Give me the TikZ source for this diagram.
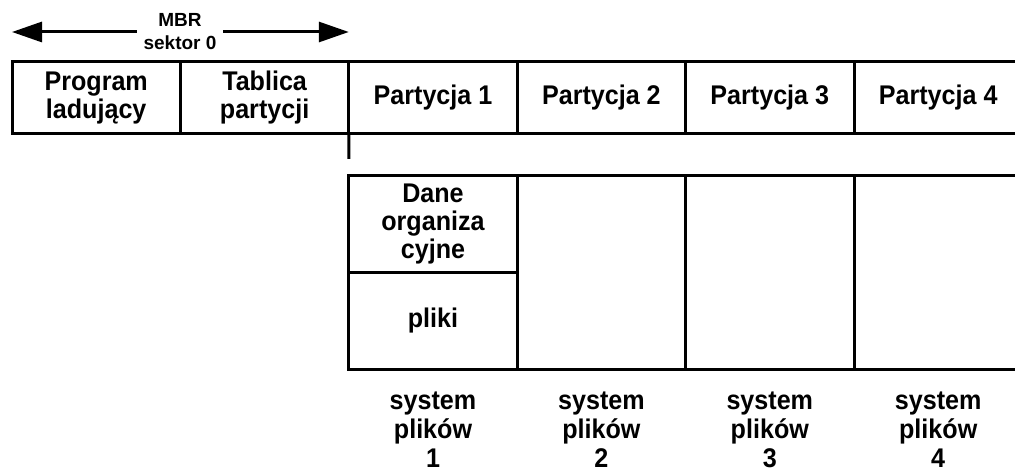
\documentclass[tikz,border=0pt]{standalone}
\usepackage{fontspec}
\setmainfont{Liberation Sans}
\newfontfamily\narrowfont{Liberation Sans}[FakeStretch=0.93]
\usetikzlibrary{positioning,arrows.meta}
\def\cellfont{\narrowfont\fontsize{27}{28}\selectfont\bfseries}
\def\fsfont{\narrowfont\fontsize{27}{29}\selectfont\bfseries}

\begin{document}
\begin{tikzpicture}[x=1pt,y=-1pt,line width=3pt,
every node/.style={align=center,font=\cellfont,inner sep=0pt,outer sep=0pt},
cell/.style={draw,minimum width=168.4pt,minimum height=72pt},
half/.style={draw,minimum width=168.4pt,minimum height=96.5pt},
tall/.style={draw,minimum width=168.4pt,minimum height=193pt},
fs/.style={font=\fsfont,below=23pt of #1},
arr/.style={-{Triangle[length=30pt,width=20pt]}}
]
\useasboundingbox (0,0) rectangle (1015,473);
\clip (0,0) rectangle (1015,473);
\node[font=\fontsize{19}{23}\selectfont\bfseries,inner xsep=7pt] (mbr) at (180,32) {MBR\\sektor 0};
\coordinate (mbrL) at (12,32); \coordinate (mbrR) at (348.8,32);
\draw[arr] (mbr.west) -- (mbrL); \draw[arr] (mbr.east) -- (mbrR); % <- End MBR
\node[cell,anchor=north west] (prog) at (12,62) {Program\\ladujący};
\node[cell,right=0pt of prog] (tab) {Tablica\\partycji};
\node[cell,right=0pt of tab] (p1) {Partycja 1};
\node[cell,right=0pt of p1] (p2) {Partycja 2};
\node[cell,right=0pt of p2] (p3) {Partycja 3};
\node[cell,right=0pt of p3] (p4) {Partycja 4}; % <- End sektor row
\coordinate (tick) at (348.8,159);
\draw (tab.south east) -- (tick);
\node[half,anchor=north west] (dane) at (348.8,176) {Dane\\organiza\\cyjne};
\node[half,below=0pt of dane] (pliki) {pliki};
\node[tall,anchor=north west] (f2) at (517.2,176) {};
\node[tall,right=0pt of f2] (f3) {};
\node[tall,right=0pt of f3] (f4) {};
\node[fs=pliki] (fs1) {system\\plików\\1};
\node[fs=f2] (fs2) {system\\plików\\2};
\node[fs=f3] (fs3) {system\\plików\\3};
\node[fs=f4] (fs4) {system\\plików\\4};
\end{tikzpicture}
\end{document}
